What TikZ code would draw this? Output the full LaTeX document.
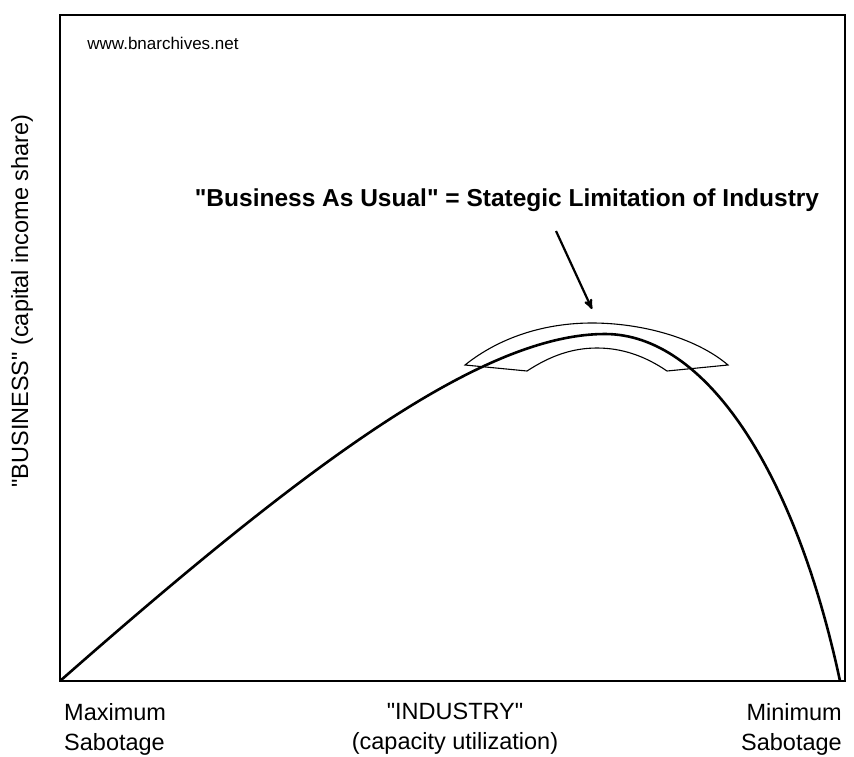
\documentclass[tikz,border=0pt]{standalone}
\usepackage{fontspec}
\setmainfont{Liberation Sans}[Ligatures=TeXOff]
\usetikzlibrary{arrows}

\begin{document}
\begin{tikzpicture}[x=1pt,y=-1pt,>=latex,
    frame/.style={draw,line width=1.4pt},
    curve/.style={line width=2.6pt,line join=round},
    band/.style={draw,line width=1.1pt,fill=none},
    label/.style={inner sep=0pt,font=\fontsize{23.5}{30}\selectfont}]

  \useasboundingbox (0,0) rectangle (854,756);

  % box
  \coordinate (origin) at (60,681);
  \coordinate (corner) at (845,15);
  \draw[frame] (origin) rectangle (corner);

  \node (source) at (163,43) {\fontsize{17}{20}\selectfont www.bnarchives.net};

  % band of business as usual
  \draw[band] (465,365) -- (527,371)
     .. controls (550,356) and (572,348) .. (597,348)
     .. controls (622,348) and (645,356) .. (667,371)
     -- (728,365)
     .. controls (695,337) and (640,323) .. (592,323)
     .. controls (545,323) and (500,337) .. cycle;

  % the curve
  \coordinate (left) at (60,681);
  \coordinate (peak) at (605,334);
  \coordinate (right) at (840,681);
  \draw[curve] (left) .. controls (300,470) and (480,334) .. (peak)
     .. controls (705,334) and (795,470) .. (right);

  \node[font=\bfseries\fontsize{24.5}{28}\selectfont] (title) at (507,200)
     {"Business As Usual" = Stategic Limitation of Industry};
  \coordinate (tail) at (556,231);
  \coordinate (tip) at (592,309);
  \draw[->,line width=2.2pt,>=stealth'] (tail) -- (tip);

  \node[label,rotate=90] (business) at (22,301) {"BUSINESS" (capital income share)};
  \node[label,align=left,anchor=west] (maxsab) at (64,729) {Maximum\\Sabotage};
  \node[label,align=center] (industry) at (455,729) {"INDUSTRY"\\(capacity utilization)};
  \node[label,align=right,anchor=east] (minsab) at (842,729) {Minimum\\Sabotage};

\end{tikzpicture}
\end{document}
